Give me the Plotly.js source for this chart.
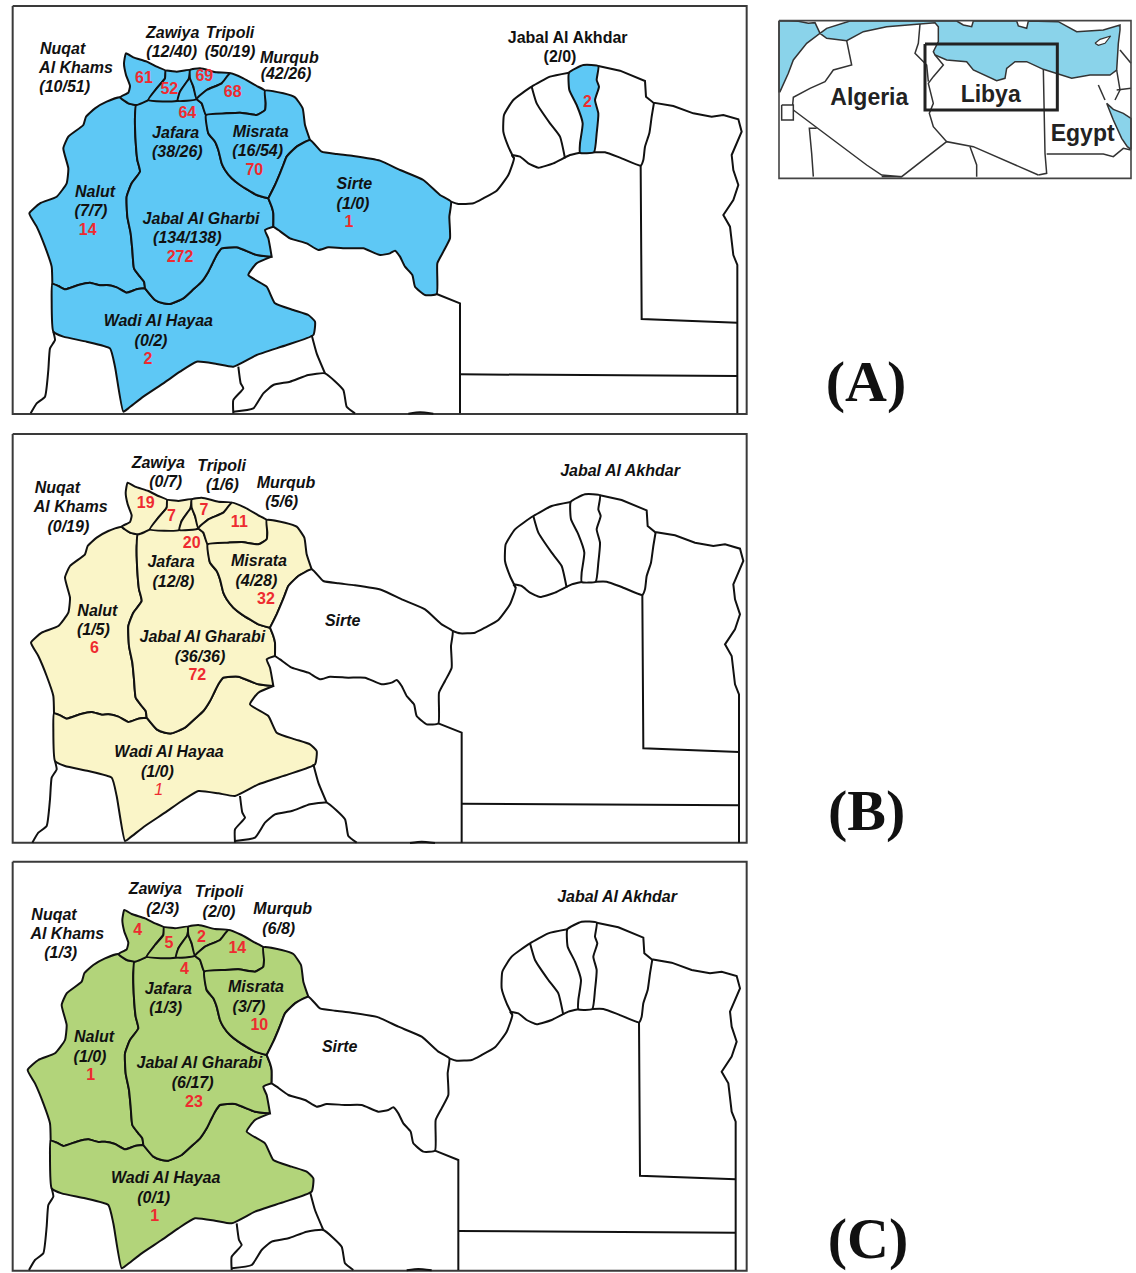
<!DOCTYPE html>
<html><head><meta charset="utf-8">
<script src="https://cdn.plot.ly/plotly-3.0.1.min.js"></script>
<style>html,body{margin:0;padding:0;background:#fff}#c{width:1136px;height:1273px}</style></head>
<body><div id="c"></div>
<script>
const EAST = 1140;
const e = pts => pts.map(([x,y]) => [x+EAST,y]);
const rev = pts => pts.slice().reverse();

// Shared borders
const arcNalutJabal = [[408,315],[405,350],[405,380],[408,440],[412,480],[420,515],[395,550],[380,590],[382,650],[392,700],[397,750],[402,805],[420,830],[432,845],[435,865]];
const arcNalutWadi = [[157,852],[175,858],[195,868],[235,855],[270,848],[300,856],[320,855],[350,862],[380,878],[410,868],[435,865]];
const arcJabalSouth = [[435,865],[465,900],[490,910],[510,912],[550,895],[580,868],[605,845],[625,815],[635,795],[650,765],[665,745],[710,742],[770,765],[815,770]];
const arcMisrataWest = [[618,345],[625,400],[645,425],[655,450],[665,490],[675,510],[695,535],[720,555],[770,585],[805,595]];
const arcSirteWest = [[930,420],[890,440],[860,470],[850,495],[840,520],[825,555],[805,595]];
const arcGharbiEast = [[805,595],[815,620],[820,640],[820,680]];
const arcGharbiNotch = [[820,680],[795,690],[805,715],[815,770]];

// Regions (closed outlines)
const regionNuqat = [[378,160],[400,172],[440,185],[470,200],[497,212],[495,235],[470,265],[445,300],[410,315],[385,310],[360,292],[385,278],[390,258],[378,225],[372,190],[378,160]];
const regionZawiya = [[497,212],[530,215],[570,210],[565,240],[540,275],[533,302],[445,300],[470,265],[495,235],[497,212]];
const regionSliver = [[570,235],[580,260],[590,297],[533,302],[540,275],[570,235]];
const regionTripoli = [[570,210],[600,205],[650,217],[690,220],[665,250],[620,270],[590,297],[580,260],[570,235],[570,210]];
const regionMurqub = [[690,220],[730,235],[770,258],[795,272],[797,310],[795,330],[770,345],[720,338],[680,340],[618,345],[605,310],[590,297],[620,270],[665,250],[690,220]];
const regionMisrata = [[795,272],[850,280],[885,292],[908,325],[915,375],[930,420]].concat(arcSirteWest, rev(arcMisrataWest), [[680,340],[720,338],[770,345],[795,330],[797,310],[795,272]]);
const regionSirte = [[930,420],[965,455],[1010,462],[1060,468],[1140,482]].concat(e([[60,510],[130,540],[180,585],[213,605],[208,650],[210,715],[190,755],[172,790],[170,882],[135,885],[105,860],[97,825],[75,800],[60,770],[45,752],[30,760],[0,765]]),[[1090,745],[1040,745],[985,742],[955,750],[920,730],[870,715],[835,690],[820,680]],rev(arcGharbiEast),rev(arcSirteWest));
const regionJabal = [[408,315],[445,300],[533,302],[590,297],[605,310]].concat(arcMisrataWest, arcGharbiEast, arcGharbiNotch, rev(arcJabalSouth), rev(arcNalutJabal));
const regionNalut = [[360,292],[320,305],[285,325],[258,350],[250,375],[205,410],[190,445],[205,505],[200,550],[170,590],[120,610],[88,640],[110,680],[135,740],[155,800],[157,852]].concat(arcNalutWadi, rev(arcNalutJabal), [[385,310],[360,292]]);
const regionWadi = [[157,852],[155,900],[160,995],[190,1010],[260,1025],[330,1045],[345,1100],[370,1235],[385,1225],[430,1190],[490,1150],[540,1115],[590,1085],[650,1092],[700,1100],[770,1065],[860,1035],[940,1005],[945,965],[925,945],[880,930],[825,910],[800,860],[745,825],[770,790],[815,770]].concat(rev(arcJabalSouth), rev(arcNalutWadi));
const regionAkhdarStrip = e([[567,218],[610,195],[655,198],[650,240],[657,260],[645,300],[655,340],[650,400],[642,457],[600,458],[600,430],[608,370],[590,315],[568,270],[567,218]]);

// Other borders, never filled
const curvedBorders = [
 [[160,995],[165,1020],[150,1045],[145,1110],[135,1190],[110,1210],[92,1240]],
 [[715,1100],[722,1150],[730,1165],[700,1200],[700,1240]],
 [[700,1235],[760,1225],[790,1180],[820,1155],[870,1145],[925,1125],[975,1120],[1030,1170],[1040,1220],[1065,1240]],
 [[935,1005],[950,1060],[975,1120]],
 e([[213,605],[235,612],[280,610],[310,595],[350,572],[385,525],[402,475],[395,465]]),
 e([[402,475],[385,440],[370,395],[372,345],[400,300],[455,260],[510,230],[567,218]]),
 e([[395,465],[420,470],[445,490],[475,503],[520,490],[570,465],[600,458]]),
 e([[642,457],[675,457],[720,473],[782,497],[790,480],[795,440],[808,400],[815,350],[822,308]]),
 e([[455,260],[470,310],[510,370],[540,410],[555,475]]),
 e([[85,1241],[120,1237],[160,1241]])
];
const straightBorders = [
 e([[655,198],[720,212],[795,243],[798,290],[820,308],[880,318],[940,340],[995,350],[1030,345],[1075,358],[1085,395],[1070,430],[1055,465],[1060,510],[1075,555],[1060,600],[1030,645],[1050,680],[1055,720],[1060,765],[1072,795],[1072,1240]]),
 e([[782,497],[785,957],[1072,968]]),
 e([[170,882],[240,910],[240,1240]]),
 e([[240,1123],[1072,1128]])
];

// Panels
const panelNames = ["A","B","C"];
const panelFills = ["#5ec8f5","#faf5c8","#b2d47a"];
const mapShiftX = [0,5,-5];
const mapShiftY = [0,1288,2570];
const frameTop = [18,1302,2585];
const frameBottom = [1242,2528,3812];
const frameLeft = 38, frameRight = 2240;
const cropTop = [3,1293,2583];

const textA = ["Nuqat","Al Khams","(10/51)","Zawiya","(12/40)","Tripoli","(50/19)","Murqub","(42/26)","Jafara","(38/26)","Misrata","(16/54)","Nalut","(7/7)","Jabal Al Gharbi","(134/138)","Sirte","(1/0)","Wadi Al Hayaa","(0/2)"];
const textAX = [188,228,194,518,515,690,690,868,858,527,532,782,773,285,273,603,562,1063,1059,475,453];
const textAY = [147,205,262,100,157,100,157,175,222,398,455,397,453,575,633,658,715,553,612,963,1022];
const countsA = ["61","52","69","68","64","70","14","272","1","2","2"];
const countsAX = [432,508,613,698,562,763,263,540,1047,444,1762];
const countsAY = [233,268,228,276,340,510,690,770,667,1078,307];

const textB = ["Nuqat","Al Khams","(0/19)","Zawiya","(0/7)","Tripoli","(1/6)","Murqub","(5/6)","Jafara","(12/8)","Misrata","(4/28)","Nalut","(1/5)","Jabal Al Gharabi","(36/36)","Sirte","Wadi Al Hayaa","(1/0)","Jabal Al Akhdar"];
const textBX = [172,212,205,475,497,665,667,858,845,513,520,777,769,292,280,607,600,1028,507,472,1860];
const textBY = [175,232,292,100,157,107,165,158,215,397,457,393,452,542,600,622,680,572,965,1025,123];
const countsB = ["19","7","7","11","20","32","6","72"];
const countsBX = [437,514,612,718,575,798,283,592];
const countsBY = [220,258,240,275,340,507,655,735];
const thinCountB = ["1"], thinCountBX = [476], thinCountBY = [1080];

const textC = ["Nuqat","Al Khams","(1/3)","Zawiya","(2/3)","Tripoli","(2/0)","Murqub","(6/8)","Jafara","(1/3)","Misrata","(3/7)","Nalut","(1/0)","Jabal Al Gharabi","(6/17)","Sirte","Wadi Al Hayaa","(0/1)","Jabal Al Akhdar"];
const textCX = [162,202,182,466,488,657,657,848,836,505,497,768,747,282,270,598,578,1019,497,461,1851];
const textCY = [165,222,278,88,147,97,155,148,207,387,445,382,440,530,590,610,670,560,955,1013,111];
const countsC = ["4","5","2","14","4","10","1","23","1"];
const countsCX = [413,507,604,712,553,778,272,582,464];
const countsCY = [210,248,230,265,328,495,645,725,1068];

const uprightLabels = ["Jabal Al Akhdar","(2/0)"];
const uprightX = [1703,1680];
const uprightY = [116,175];
const panelLetters = ["(A)","(B)","(C)"];
const panelLetterX = [2598,2600,2604];
const panelLetterY = [1158,2445,3729];

// Inset
const insetOX = 2310, insetOY = 30;
const insetFrame = [[27,32],[1083,32],[1083,505],[27,505],[27,32]];
const insetAtlantic = [[27,32],[85,34],[115,40],[135,38],[150,70],[110,100],[70,150],[55,190],[30,245],[27,245],[27,32]];
const insetMed = [[150,70],[170,55],[240,33],[560,33],[580,45],[605,50],[610,33],[740,33],[745,48],[770,55],[775,33],[865,35],[920,65],[1000,60],[1050,45],[1050,60],[1045,100],[1040,180],[1020,195],[960,195],[905,205],[860,190],[820,178],[770,155],[735,155],[710,175],[705,205],[680,212],[640,195],[610,180],[590,155],[530,150],[495,135],[490,125],[505,95],[505,50],[495,38],[450,42],[350,50],[280,65],[230,92],[170,85],[150,70]];
const insetCyprus = [[975,100],[990,88],[1022,78],[1005,100],[985,106],[975,100]];
const insetRedSea = [[1010,280],[1030,298],[1060,310],[1083,325],[1083,418],[1072,410],[1055,385],[1030,330],[1010,280]];
const insetLines = [
 [[230,92],[245,165],[190,180],[165,215],[120,235],[70,262],[68,285]],
 [[35,285],[70,285],[70,330],[35,330],[35,285]],
 [[70,300],[290,465],[335,495],[395,500],[530,395],[610,410],[805,495]],
 [[140,355],[118,355],[125,430],[130,500]],
 [[530,395],[490,350],[478,310],[490,280],[475,220],[490,200],[520,165],[495,135]],
 [[450,42],[445,100],[435,130],[470,165],[475,215]],
 [[600,410],[620,465],[620,500]],
 [[820,178],[825,430],[830,490],[805,495]],
 [[830,432],[1000,432],[1030,440],[1060,415],[1083,420]],
 [[1040,180],[1050,240],[1035,270]],
 [[1040,240],[1083,235]],
 [[1050,120],[1083,160]],
 [[985,225],[1005,270]],
 [[335,500],[395,500]]
];
const insetBox = [[465,102],[862,102],[862,300],[465,300],[465,102]];
const insetText = ["Algeria","Libya","Egypt"];
const insetTextX = [298,662,938];
const insetTextY = [268,258,375];

const traces = [];
const CURVE = {color:"#111",width:2,shape:"spline",smoothing:0.45};
const STRAIGHT = {color:"#111",width:2};
function poly(pts, dx, dy, opts) {
  traces.push(Object.assign({
    type:"scatter", mode:"lines", hoverinfo:"skip", showlegend:false,
    x:pts.map(p=>p[0]+dx), y:pts.map(p=>p[1]+dy),
    line:STRAIGHT
  }, opts||{}));
}
function filled(pts,dx,dy,color,line){
  poly(pts,dx,dy,{fill:"toself",fillcolor:color,line:line||CURVE});
}
function label(text,xs,ys,dx,dy,size,color,weight,style,family){
  traces.push({type:"scatter",mode:"text",hoverinfo:"skip",showlegend:false,cliponaxis:false,
    x:xs.map(v=>v+dx),y:ys.map(v=>v+dy),text:text,textposition:"middle center",
    textfont:{family:family||"Liberation Sans, Arial, sans-serif",size:size,color:color,weight:weight,style:style}});
}

const west = [regionNalut,regionWadi,regionJabal,regionNuqat,regionZawiya,regionSliver,regionTripoli,regionMurqub,regionMisrata];
panelNames.forEach((name,i)=>{
  const dx=mapShiftX[i], dy=mapShiftY[i];
  poly([[frameLeft,frameTop[i]],[frameRight,frameTop[i]],[frameRight,frameBottom[i]],[frameLeft,frameBottom[i]],[frameLeft,frameTop[i]]],0,0,{line:{color:"#3a3a3a",width:2}});
  west.forEach(r=>filled(r,dx,dy,panelFills[i]));
  filled(regionSirte,dx,dy,i===0?panelFills[0]:"#ffffff");
  filled(regionAkhdarStrip,dx,dy,i===0?panelFills[0]:"#ffffff");
  curvedBorders.forEach(r=>poly(r,dx,dy,{line:CURVE}));
  straightBorders.forEach(r=>poly(r,dx,dy));
});

const LBL=16, RED="#ee2b30", INK="#111";
label(textA,textAX,textAY,0,cropTop[0],LBL,INK,"bold","italic");
label(countsA,countsAX,countsAY,0,cropTop[0],LBL,RED,"bold","normal");
label(uprightLabels,uprightX,uprightY,0,0,LBL,INK,"bold","normal");
label(textB,textBX,textBY,0,cropTop[1],LBL,INK,"bold","italic");
label(countsB,countsBX,countsBY,0,cropTop[1],LBL,RED,"bold","normal");
label(thinCountB,thinCountBX,thinCountBY,0,cropTop[1],LBL,RED,"normal","italic");
label(textC,textCX,textCY,0,cropTop[2],LBL,INK,"bold","italic");
label(countsC,countsCX,countsCY,0,cropTop[2],LBL,RED,"bold","normal");
label(panelLetters,panelLetterX,panelLetterY,0,0,58,"#111","bold","normal","Liberation Serif, Times New Roman, serif");

// inset
const INSET = {color:"#333",width:1.5};
filled(insetAtlantic,insetOX,insetOY,"#8ad3ea",INSET);
filled(insetMed,insetOX,insetOY,"#8ad3ea",INSET);
filled(insetCyprus,insetOX,insetOY,"#ffffff",{color:"#333",width:1.2});
filled(insetRedSea,insetOX,insetOY,"#8ad3ea",INSET);
insetLines.forEach(l=>poly(l,insetOX,insetOY,{line:INSET}));
poly(insetFrame,insetOX,insetOY,{line:{color:"#444",width:1.6}});
poly(insetBox,insetOX,insetOY,{line:{color:"#222",width:3}});
label(insetText,insetTextX,insetTextY,insetOX,insetOY,23,"#222","bold","normal");

const layout = {
  width:1136,height:1273,margin:{l:0,r:0,t:0,b:0},
  paper_bgcolor:"#fff",plot_bgcolor:"#fff",showlegend:false,
  xaxis:{range:[0,3408],visible:false,fixedrange:true},
  yaxis:{range:[3819,0],visible:false,fixedrange:true}
};
Plotly.newPlot("c",traces,layout,{displayModeBar:false,staticPlot:true});
</script></body></html>
